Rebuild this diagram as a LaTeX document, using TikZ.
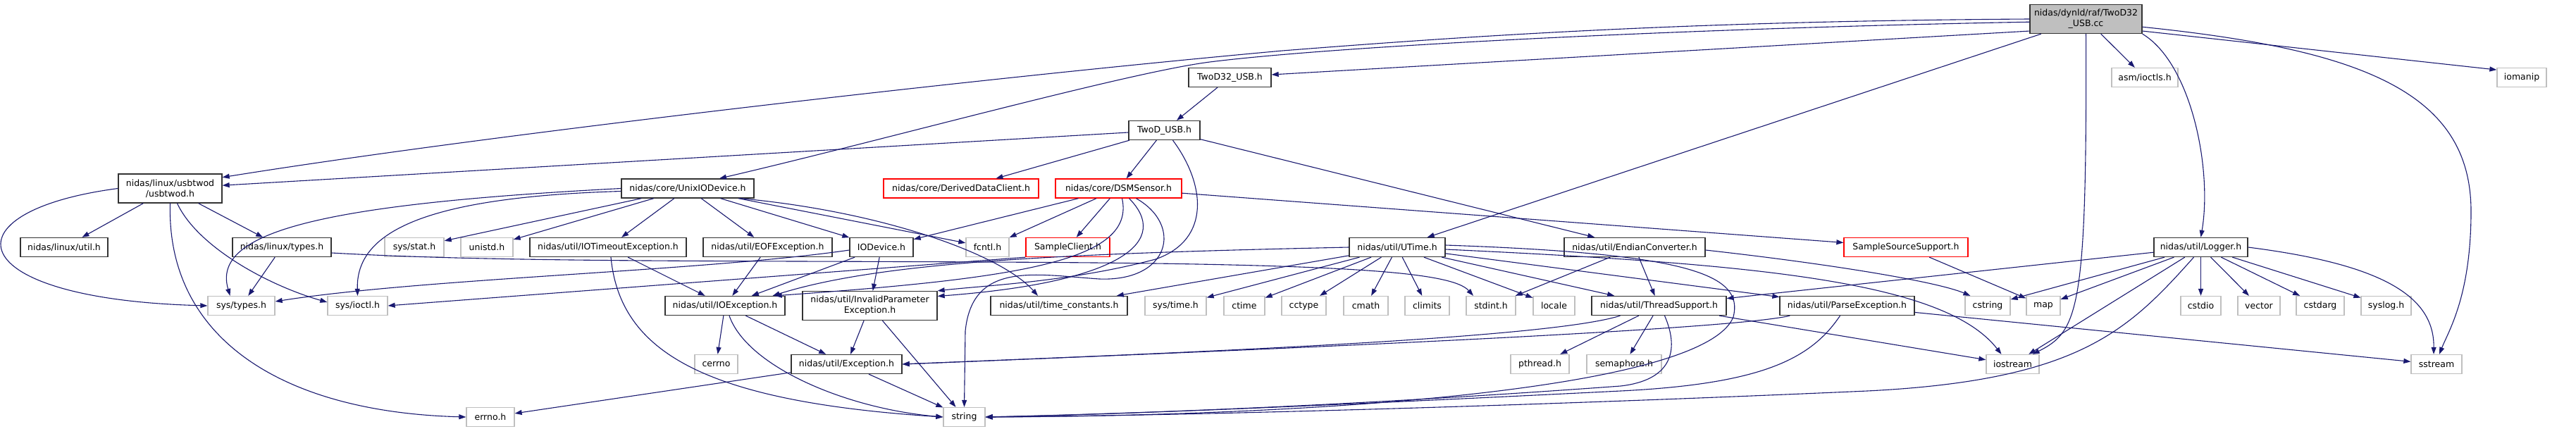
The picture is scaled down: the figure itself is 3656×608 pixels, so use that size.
\documentclass[tikz,border=0pt]{standalone}
\usepackage{fontspec}
\setmainfont{DejaVu Sans}
\usepackage{tikz}
\usetikzlibrary{arrows.meta}
\definecolor{edgeblue}{HTML}{191970}
\definecolor{framegray}{HTML}{BFBFBF}
\definecolor{framedark}{HTML}{333333}

\begin{document}
\begin{tikzpicture}[x=1pt, y=-1pt,
  box/.style={draw=framedark, line width=1.3pt, fill=white, minimum height=27pt, inner sep=2pt, font=\fontsize{12.5}{15}\selectfont},
  sysbox/.style={box, draw=framegray},
  redbox/.style={box, draw=red},
  twoline/.style={align=center, minimum height=41pt},
  dep/.style={draw=edgeblue, line width=1.1pt, -{Triangle[length=10pt, width=7pt]}}]
  \path[use as bounding box, fill=white] (0,0) rectangle (3656,608);

  % The file itself
  \node[box, twoline, fill=framegray, minimum width=159pt] (main) at (2960.5,27) {nidas/dynld/raf/TwoD32\\\_USB.cc};

  % Project headers
  \node[box, minimum width=117pt] (twod32h) at (1745.5,110) {TwoD32\_USB.h};
  \node[box, minimum width=101pt] (twodh) at (1652.5,185) {TwoD\_USB.h};
  \node[box, twoline, minimum width=147pt] (usbtwod) at (241.5,267.5) {nidas/linux/usbtwod\\/usbtwod.h};
  \node[box, minimum width=188pt] (unixio) at (976,267.5) {nidas/core/UnixIODevice.h};
  \node[redbox, minimum width=220pt] (derived) at (1364,267.5) {nidas/core/DerivedDataClient.h};
  \node[redbox, minimum width=179pt] (dsmsensor) at (1587.5,267.5) {nidas/core/DSMSensor.h};
  \node[box, minimum width=124pt] (linuxutil) at (91,351) {nidas/linux/util.h};
  \node[box, minimum width=140pt] (linuxtypes) at (400,351) {nidas/linux/types.h};
  \node[box, minimum width=222pt] (iotimeout) at (863,351) {nidas/util/IOTimeoutException.h};
  \node[box, minimum width=183pt] (eofexc) at (1089.5,351) {nidas/util/EOFException.h};
  \node[box, minimum width=90pt] (iodevice) at (1251,351) {IODevice.h};
  \node[redbox, minimum width=119pt] (sampleclient) at (1515.5,351) {SampleClient.h};
  \node[box, minimum width=136pt] (utime) at (1983,351) {nidas/util/UTime.h};
  \node[box, minimum width=200pt] (endian) at (2320,351) {nidas/util/EndianConverter.h};
  \node[redbox, minimum width=176pt] (samplesrc) at (2705,351) {SampleSourceSupport.h};
  \node[box, minimum width=133pt] (logger) at (3123.5,351) {nidas/util/Logger.h};
  \node[box, minimum width=170pt] (ioexc) at (1029,434) {nidas/util/IOException.h};
  \node[box, twoline, minimum width=191pt] (invparam) at (1234.5,434) {nidas/util/InvalidParameter\\Exception.h};
  \node[box, minimum width=194pt] (timeconst) at (1503,434) {nidas/util/time\_constants.h};
  \node[box, minimum width=191pt] (threadsup) at (2354.5,434) {nidas/util/ThreadSupport.h};
  \node[box, minimum width=191pt] (parseexc) at (2621.5,434) {nidas/util/ParseException.h};
  \node[box, minimum width=157pt] (exception) at (1201.5,517) {nidas/util/Exception.h};

  % System headers
  \node[sysbox, minimum width=94pt] (asmioctls) at (3044,110) {asm/ioctls.h};
  \node[sysbox, minimum width=84pt] (sysstat) at (588,351) {sys/stat.h};
  \node[sysbox, minimum width=74pt] (unistd) at (691,351) {unistd.h};
  \node[sysbox, minimum width=61pt] (fcntl) at (1401.5,351) {fcntl.h};
  \node[sysbox, minimum width=95pt] (systypes) at (342.5,434) {sys/types.h};
  \node[sysbox, minimum width=85pt] (sysioctl) at (507.5,434) {sys/ioctl.h};
  \node[sysbox, minimum width=87pt] (systime) at (1668.5,434) {sys/time.h};
  \node[sysbox, minimum width=70pt] (stdint) at (2116,434) {stdint.h};
  \node[sysbox, minimum width=71pt] (syslog) at (3386.5,434) {syslog.h};
  \node[sysbox, minimum width=83pt] (pthread) at (2185.5,517) {pthread.h};
  \node[sysbox, minimum width=106pt] (semaphore) at (2305,517) {semaphore.h};
  \node[sysbox, minimum width=68pt] (errnoh) at (696,592) {errno.h};
  \foreach \n/\cx/\cy/\w in {iomanip/3579/110/70, ctime/1766/434/58, cctype/1850.5/434/63,
      cmath/1938.5/434/63, climits/2025.5/434/63, locale/2205.5/434/59, cstring/2821/434/64,
      map/2900/434/48, cstdio/3123.5/434/57, vector/3206/434/60, cstdarg/3293/434/68,
      cerrno/1016.5/517/61, iostream/2856.5/517/75, sstream/3458/517/72, string/1368.5/592/59}
    \node[sysbox, minimum width=\w pt] (\n) at (\cx,\cy) {\n};

  % Straight includes
  \foreach \a/\b in {twod32h/twodh, twodh/usbtwod, twodh/derived, twodh/dsmsensor, twodh/endian,
      main/utime, main/asmioctls, usbtwod/linuxutil, usbtwod/linuxtypes, linuxtypes/systypes,
      unixio/sysstat, unixio/unistd, unixio/iotimeout, unixio/eofexc, unixio/iodevice, unixio/fcntl,
      dsmsensor/iodevice, dsmsensor/fcntl, dsmsensor/sampleclient, dsmsensor/samplesrc,
      iotimeout/ioexc, eofexc/ioexc, iodevice/ioexc, iodevice/invparam,
      utime/timeconst, utime/systime, utime/ctime, utime/cctype, utime/cmath, utime/climits,
      utime/locale, utime/threadsup, utime/parseexc, endian/stdint, endian/threadsup, samplesrc/map,
      logger/threadsup, logger/cstring, logger/map, logger/iostream, logger/cstdio, logger/vector,
      logger/cstdarg, logger/syslog, ioexc/cerrno, ioexc/exception, invparam/exception,
      invparam/string, threadsup/pthread, threadsup/semaphore, threadsup/iostream,
      parseexc/sstream, exception/errnoh, exception/string}
    \draw[dep] (\a) -- (\b);
  \draw[dep] (main.192) -- ([yshift=4pt]twod32h.east);
  \draw[dep] (main.348) -- (iomanip.163);
  \draw[dep] (sampleclient.south west) -- (sysioctl.east);

  % Curved includes
  \draw[dep] (main.west) .. controls (2400,30) and (2100,50) .. (1820,72)
    .. controls (1400,110) and (700,190) .. (usbtwod.12);
  \draw[dep] (main.183) .. controls (2400,40) and (1900,65) .. (1717,88)
    .. controls (1600,103) and (1250,200) .. ([xshift=45pt]unixio.north);
  \draw[dep] (main.south) .. controls (2962,440) and (2950,470) .. ([xshift=-10pt]iostream.north east);
  \draw[dep] (main.south east) .. controls (3110,90) and (3140,240) .. (logger.north);
  \draw[dep] (main.352) .. controls (3350,70) and (3507,130) .. (3507,300)
    .. controls (3507,420) and (3475,470) .. ([xshift=4pt]sstream.north);
  \draw[dep] ([xshift=12pt]twodh.south) .. controls (1710,260) and (1720,340) .. (1640,368)
    .. controls (1520,400) and (1400,405) .. (invparam.north east);
  \draw[dep] (usbtwod.west) .. controls (-80,300) and (-60,425) .. (systypes.west);
  \draw[dep] ([xshift=10pt]usbtwod.south) .. controls (280,350) and (380,405) .. ([yshift=5pt]sysioctl.west);
  \draw[dep] (usbtwod.south) .. controls (236,480) and (400,585) .. (errnoh.west);
  \draw[dep] ([yshift=-8pt]linuxtypes.east) .. controls (700,372) and (1000,370) .. (1400,372)
    .. controls (1900,374) and (2060,385) .. ([xshift=-25pt]stdint.north);
  \draw[dep] (unixio.west) .. controls (450,290) and (300,330) .. ([xshift=-16pt]systypes.north);
  \draw[dep] ([yshift=-4pt]unixio.west) .. controls (600,280) and (505,330) .. (sysioctl.north);
  \draw[dep] ([xshift=-20pt]unixio.south east) .. controls (1250,300) and (1420,360) .. ([xshift=-30pt]timeconst.north);
  \draw[dep] ([xshift=5pt]dsmsensor.south) .. controls (1612,370) and (1450,395) .. ([xshift=-15pt]ioexc.north east);
  \draw[dep] ([xshift=15pt]dsmsensor.south) .. controls (1660,340) and (1600,400) .. (invparam.8);
  \draw[dep] ([xshift=25pt]dsmsensor.south) .. controls (1680,320) and (1660,400) .. (1560,396)
    .. controls (1470,390) and (1380,370) .. (1370,470) -- (string.north);
  \draw[dep] ([xshift=4pt]iotimeout.south) .. controls (880,500) and (1000,570) .. (string.west);
  \draw[dep] ([yshift=-4pt]iodevice.west) .. controls (1000,385) and (600,395) .. ([yshift=6pt]systypes.east);
  \draw[dep] (utime.west) .. controls (1500,360) and (1250,372) .. ([xshift=-18pt]ioexc.north east);
  \draw[dep] ([yshift=-3pt]utime.east) .. controls (2500,375) and (2760,400) .. ([xshift=-16pt]iostream.north);
  \draw[dep] ([yshift=3pt]utime.east) .. controls (2400,360) and (2475,390) .. (2460,450)
    .. controls (2420,550) and (1900,590) .. (string.east);
  \draw[dep] ([yshift=-4pt]endian.east) .. controls (2600,375) and (2750,400) .. ([xshift=8pt]cstring.north west);
  \draw[dep] ([xshift=-10pt]logger.south) .. controls (3020,470) and (2950,540) .. (2650,555)
    .. controls (2200,575) and (1700,590) .. (string.east);
  \draw[dep] (logger.east) .. controls (3380,375) and (3455,420) .. ([xshift=-4pt]sstream.north);
  \draw[dep] ([xshift=6pt]ioexc.south) .. controls (1060,520) and (1200,580) .. (string.west);
  \draw[dep] ([xshift=-55pt]threadsup.south) .. controls (2200,480) and (1700,500) .. (exception.east);
  \draw[dep] ([xshift=8pt]threadsup.south) .. controls (2385,500) and (2370,540) .. (2300,548)
    .. controls (2000,570) and (1700,585) .. (string.east);
  \draw[dep] ([xshift=15pt]parseexc.south west) .. controls (2450,470) and (1700,500) .. (exception.east);
  \draw[dep] ([xshift=-10pt]parseexc.south) .. controls (2570,510) and (2500,545) .. (2300,555)
    .. controls (1900,575) and (1600,588) .. (string.east);
\end{tikzpicture}
\end{document}
